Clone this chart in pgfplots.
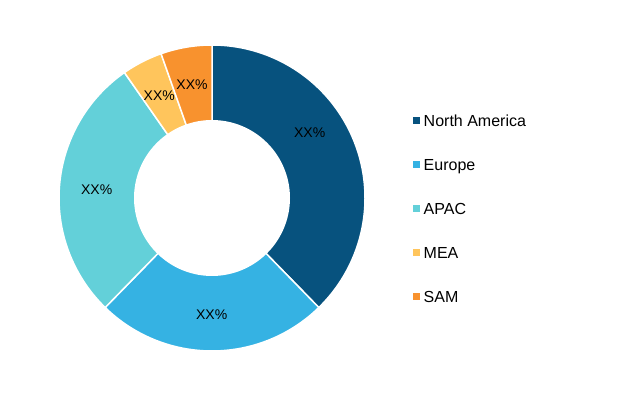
\documentclass[border=0pt]{standalone}
\usepackage{pgfplots}
\usepackage{pgfplotstable}
\pgfplotsset{compat=1.18}
\usepackage{fontspec}
\setmainfont{Liberation Sans}
\definecolor{cNA}{HTML}{07527E}
\definecolor{cEU}{HTML}{35B2E3}
\definecolor{cAP}{HTML}{63D0D9}
\definecolor{cME}{HTML}{FFC55C}
\definecolor{cSA}{HTML}{F8922E}

\pgfplotstableread{
region share
{North America} 37.7
Europe 24.6
APAC 28.0
MEA 4.3
SAM 5.4
}\shares

\newcommand\getshare[2]{\pgfplotstablegetelem{#1}{share}\of\shares\global\let#2\pgfplotsretval}

\begin{document}%
\begin{tikzpicture}
\getshare{0}\sA
\getshare{1}\sB
\getshare{2}\sC
\getshare{3}\sD
\getshare{4}\sE
\pgfmathsetmacro\aA{90}
\pgfmathsetmacro\aB{\aA-3.6*\sA}
\pgfmathsetmacro\aC{\aB-3.6*\sB}
\pgfmathsetmacro\aD{\aC-3.6*\sC}
\pgfmathsetmacro\aE{\aD-3.6*\sD}
\pgfmathsetmacro\aF{\aE-3.6*\sE}
\def\Ro{153}
\def\Ri{78}
\begin{axis}[
  at={(0,0)}, anchor=south west,
  scale only axis, width=633bp, height=395bp,
  xmin=-212, xmax=421, ymin=-197, ymax=198,
  hide axis, clip=false,
  samples=120, variable=\t,
  legend cell align=left,
  legend image code/.code={\path[#1, draw=none] (0bp,-2.3bp) rectangle (7bp,4.7bp);},
  legend style={draw=none, fill=none, at={(0.647,0.468)}, anchor=west,
    font=\fontsize{16bp}{18bp}\selectfont,
    nodes={inner sep=0pt, text height=11.5bp, text depth=3bp},
    row sep=29.5bp,
    /tikz/every odd column/.append style={column sep=4bp}},
]
\addplot[fill=cNA, draw=white, line width=1.5bp, domain=\aB:\aA] ({\Ro*cos(\t)},{\Ro*sin(\t)}) -- (axis cs:0,0) -- cycle;
\addlegendentry{North America}
\addplot[fill=cEU, draw=white, line width=1.5bp, domain=\aC:\aB] ({\Ro*cos(\t)},{\Ro*sin(\t)}) -- (axis cs:0,0) -- cycle;
\addlegendentry{Europe}
\addplot[fill=cAP, draw=white, line width=1.5bp, domain=\aD:\aC] ({\Ro*cos(\t)},{\Ro*sin(\t)}) -- (axis cs:0,0) -- cycle;
\addlegendentry{APAC}
\addplot[fill=cME, draw=white, line width=1.5bp, domain=\aE:\aD] ({\Ro*cos(\t)},{\Ro*sin(\t)}) -- (axis cs:0,0) -- cycle;
\addlegendentry{MEA}
\addplot[fill=cSA, draw=white, line width=1.5bp, domain=\aF:\aE] ({\Ro*cos(\t)},{\Ro*sin(\t)}) -- (axis cs:0,0) -- cycle;
\addlegendentry{SAM}
\addplot[fill=white, draw=none, domain=0:360, forget plot] ({\Ri*cos(\t)},{\Ri*sin(\t)}) -- cycle;
\begin{scope}[every node/.style={font=\fontsize{14bp}{16bp}\selectfont, text=black}]
\node at (axis cs:97.7,65) {XX\%};
\node at (axis cs:-0.3,-117) {XX\%};
\node at (axis cs:-115.3,8) {XX\%};
\node at (axis cs:-52.7,102) {XX\%};
\node at (axis cs:-20,113) {XX\%};
\end{scope}
\end{axis}
\pgfresetboundingbox
\useasboundingbox (0,0) rectangle (633bp,395bp);
\end{tikzpicture}%
\end{document}
